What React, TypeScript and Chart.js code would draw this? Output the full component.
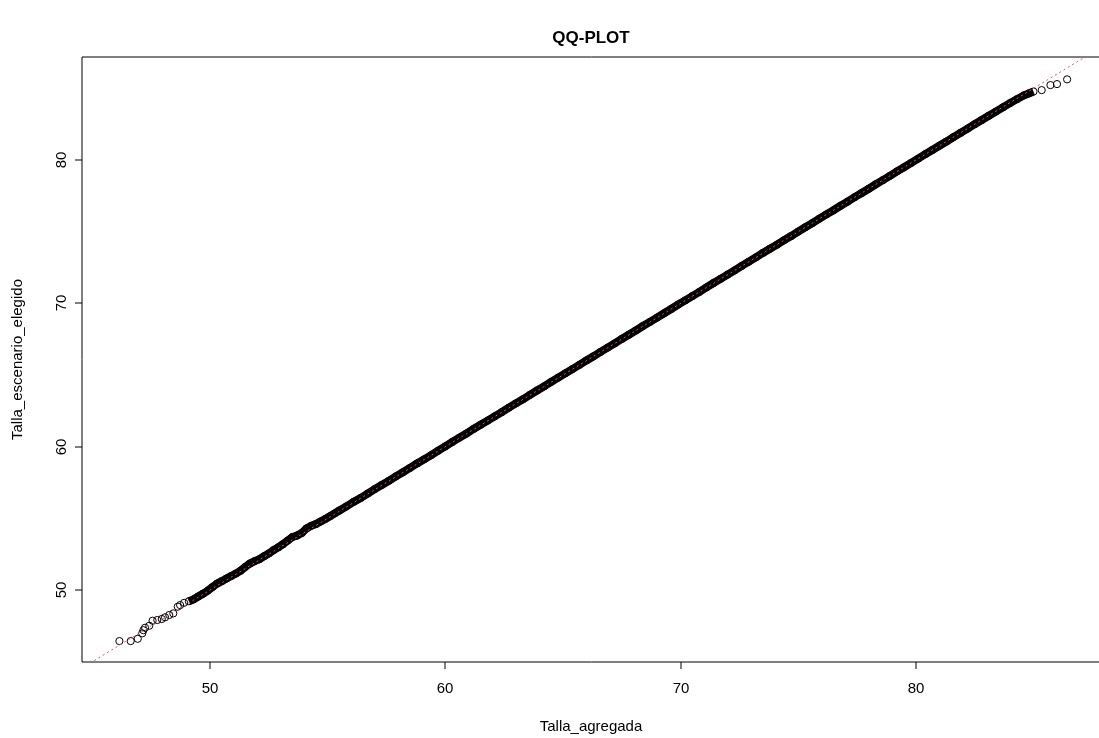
import React, { useEffect, useRef } from "react";
import { Chart, registerables } from "chart.js";

Chart.register(...registerables);

// ---- Data ----
const titleText = "QQ-PLOT";
const xAxisTitle = "Talla_agregada";
const yAxisTitle = "Talla_escenario_elegido";
const xTickValues = [50, 60, 70, 80];
const yTickValues = [50, 60, 70, 80];

// sparse lower tail (theoretical / sample quantiles)
const lowTailX = [46.15, 46.63, 46.93, 47.12, 47.17, 47.24, 47.42, 47.56, 47.76, 47.95, 48.09, 48.27, 48.44, 48.63, 48.73, 48.9];
const lowTailY = [46.44, 46.44, 46.6, 46.98, 47.2, 47.37, 47.51, 47.86, 47.91, 47.98, 48.1, 48.26, 48.37, 48.84, 48.95, 49.11];

// dense central body
const coreX = [
  49.1, 49.3, 49.5, 49.7, 49.9, 50.1, 50.3, 50.5, 50.7, 50.9, 51.1, 51.3, 51.5, 51.7, 51.9, 52.1, 52.3, 52.5, 52.7, 52.9,
  53.1, 53.3, 53.5, 53.7, 53.9, 54.1, 54.3, 54.5, 54.7, 54.9, 55.1, 55.3, 55.5,
  55.8, 56.1, 56.4, 56.7, 57.0, 57.3, 57.6, 57.9, 58.2, 58.5, 58.8, 59.1, 59.4, 59.7, 60.0, 60.3, 60.6, 60.9, 61.2, 61.5,
  61.8, 62.1, 62.4, 62.7, 63.0, 63.3, 63.6, 63.9, 64.2, 64.5, 64.8, 65.1, 65.4, 65.7, 66.0, 66.3, 66.6, 66.9, 67.2, 67.5,
  67.8, 68.1, 68.4, 68.7, 69.0, 69.3, 69.6, 69.9, 70.2, 70.5, 70.8, 71.1, 71.4, 71.7, 72.0, 72.3, 72.6, 72.9, 73.2, 73.5,
  73.8, 74.1, 74.4, 74.7, 75.0, 75.3, 75.6, 75.9, 76.2, 76.5, 76.8, 77.1, 77.4, 77.7, 78.0, 78.3, 78.6, 78.9, 79.2, 79.5,
  79.8, 80.1, 80.4, 80.7, 81.0, 81.3, 81.6, 81.9, 82.2, 82.5, 82.8, 83.1, 83.4, 83.7, 84.0, 84.3, 84.6, 84.8, 85.0,
];
const coreY = [
  49.22, 49.35, 49.55, 49.74, 49.95, 50.2, 50.45, 50.62, 50.8, 50.98, 51.15, 51.35, 51.62, 51.85, 52.02, 52.15, 52.36, 52.55, 52.78, 52.98,
  53.2, 53.45, 53.7, 53.8, 53.98, 54.3, 54.48, 54.6, 54.78, 54.96, 55.15, 55.35, 55.55,
  55.84, 56.15, 56.42, 56.73, 57.04, 57.33, 57.62, 57.93, 58.22, 58.52, 58.83, 59.12, 59.41, 59.72, 60.02, 60.33, 60.63, 60.92, 61.24, 61.53,
  61.82, 62.12, 62.41, 62.72, 63.02, 63.31, 63.62, 63.92, 64.21, 64.52, 64.82, 65.12, 65.41, 65.71, 66.02, 66.31, 66.62, 66.91, 67.21, 67.52,
  67.81, 68.11, 68.42, 68.71, 69.01, 69.31, 69.61, 69.92, 70.21, 70.51, 70.8, 71.11, 71.42, 71.71, 72.01, 72.3, 72.61, 72.91, 73.21, 73.52,
  73.81, 74.1, 74.41, 74.7, 75.01, 75.31, 75.6, 75.91, 76.21, 76.5, 76.81, 77.1, 77.41, 77.7, 78.0, 78.31, 78.6, 78.9, 79.21, 79.5,
  79.8, 80.1, 80.41, 80.7, 81.0, 81.29, 81.6, 81.9, 82.19, 82.5, 82.79, 83.09, 83.38, 83.68, 83.97, 84.25, 84.52, 84.65, 84.78,
];

// sparse upper tail
const highTailX = [85.35, 85.72, 86.0, 86.43];
const highTailY = [84.88, 85.23, 85.3, 85.63];

// identity reference line
const refLineX = [40, 90];
const refLineY = [40, 90];

const xMin = 44.56;
const xMax = 87.87;
const yMin = 44.98;
const yMax = 87.19;

const toPoints = (xs: number[], ys: number[]) => xs.map((x, i) => ({ x, y: ys[i] }));

const FONT = "'Liberation Sans', Arial, sans-serif";

const rAxesPlugin = {
  id: "rAxes",
  afterDraw(chart: any) {
    const { ctx, chartArea } = chart;
    const xs = chart.scales.x;
    const ys = chart.scales.y;
    ctx.save();
    ctx.strokeStyle = "#000";
    ctx.lineWidth = 1;
    ctx.beginPath();
    ctx.rect(chartArea.left, chartArea.top, chartArea.right - chartArea.left, chartArea.bottom - chartArea.top);
    ctx.stroke();

    ctx.fillStyle = "#000";
    ctx.font = `15px ${FONT}`;
    ctx.textAlign = "center";
    ctx.textBaseline = "middle";
    xTickValues.forEach((v) => {
      const px = Math.round(xs.getPixelForValue(v));
      ctx.beginPath();
      ctx.moveTo(px, chartArea.bottom);
      ctx.lineTo(px, chartArea.bottom + 7);
      ctx.stroke();
      ctx.fillText(String(v), px, 689);
    });
    yTickValues.forEach((v) => {
      const py = Math.round(ys.getPixelForValue(v));
      ctx.beginPath();
      ctx.moveTo(chartArea.left, py);
      ctx.lineTo(chartArea.left - 7, py);
      ctx.stroke();
      ctx.save();
      ctx.translate(62, py);
      ctx.rotate(-Math.PI / 2);
      ctx.fillText(String(v), 0, 0);
      ctx.restore();
    });
    const cx = (chartArea.left + 1100) / 2;
    ctx.fillText(xAxisTitle, cx, 727);
    ctx.save();
    ctx.translate(18, (chartArea.top + chartArea.bottom) / 2);
    ctx.rotate(-Math.PI / 2);
    ctx.fillText(yAxisTitle, 0, 0);
    ctx.restore();
    ctx.font = `bold 17px ${FONT}`;
    ctx.fillText(titleText, cx, 38);
    ctx.restore();
  },
};

export default function App() {
  const canvasRef = useRef<HTMLCanvasElement | null>(null);

  useEffect(() => {
    document.documentElement.style.overflow = "hidden";
    document.body.style.overflow = "hidden";
    const canvas = canvasRef.current;
    if (!canvas) return;
    const pointStyle = {
      pointRadius: 3.6,
      pointBorderWidth: 1,
      pointBorderColor: "#000",
      pointBackgroundColor: "rgba(0,0,0,0)",
      pointHoverRadius: 3.6,
    };
    const chart = new Chart(canvas, {
      type: "scatter",
      data: {
        datasets: [
          {
            label: "reference",
            data: toPoints(refLineX, refLineY),
            showLine: true,
            borderColor: "#DF536B",
            borderWidth: 1,
            borderDash: [2, 3],
            pointRadius: 0,
            order: 0,
          },
          {
            label: "core",
            data: toPoints(coreX, coreY),
            showLine: true,
            borderColor: "#000",
            borderWidth: 8,
            ...pointStyle,
            order: 1,
          },
          {
            label: "low tail",
            data: toPoints(lowTailX, lowTailY),
            showLine: false,
            borderColor: "#000",
            ...pointStyle,
            order: 2,
          },
          {
            label: "high tail",
            data: toPoints(highTailX, highTailY),
            showLine: false,
            borderColor: "#000",
            ...pointStyle,
            order: 2,
          },
        ],
      },
      options: {
        animation: false,
        responsive: false,
        maintainAspectRatio: false,
        devicePixelRatio: 1,
        layout: { autoPadding: false, padding: { left: 82, top: 57, right: 0, bottom: 76 } },
        scales: {
          x: { type: "linear", min: xMin, max: xMax, display: false },
          y: { type: "linear", min: yMin, max: yMax, display: false },
        },
        plugins: { legend: { display: false }, tooltip: { enabled: false } },
        events: [],
      },
      plugins: [rAxesPlugin],
    });
    return () => chart.destroy();
  }, []);

  return (
    <div style={{ position: "fixed", left: 0, top: 0, width: 1101, height: 738, background: "#fff" }}>
      <canvas ref={canvasRef} width={1101} height={738} style={{ width: 1101, height: 738, display: "block" }} />
    </div>
  );
}
